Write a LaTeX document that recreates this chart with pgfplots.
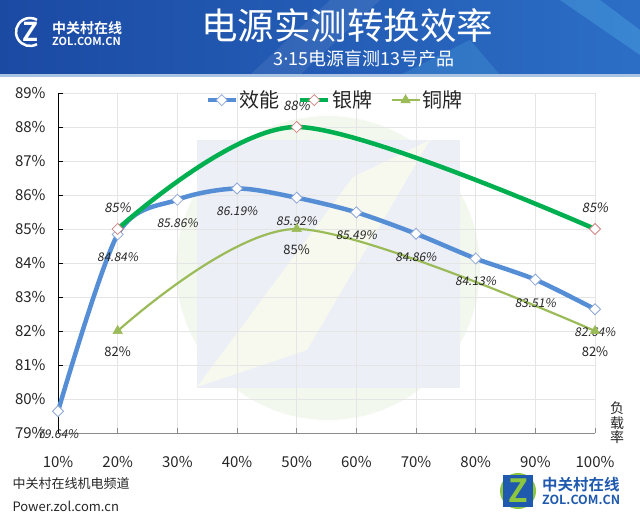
\documentclass[border=0pt]{standalone}
\usepackage{fontspec}
\setmainfont{Noto Sans CJK SC}
\newfontfamily\slfont[FakeSlant=0.18]{Noto Sans CJK SC}
\newfontfamily\boldcjk{Noto Sans CJK SC Bold}
\newfontfamily\latinfont{Noto Sans}
\usepackage{pgfplots}
\pgfplotsset{compat=1.18}
\definecolor{effblue}{HTML}{558ED5}
\definecolor{effmark}{HTML}{8FA8D6}
\definecolor{silver}{HTML}{00B050}
\definecolor{silvermark}{HTML}{C0504D}
\definecolor{bronze}{HTML}{9BBB59}
\definecolor{hdrL}{HTML}{1B4AA3}
\definecolor{hdrR}{HTML}{2C6EC6}
\definecolor{zolblue}{HTML}{1F5AAE}
\definecolor{zolgreen}{HTML}{8CC63F}
\definecolor{hdrline}{HTML}{A9C3E3}
\definecolor{wmcircle}{HTML}{F3F8EE}
\definecolor{wmrect}{HTML}{EDEFF7}
\definecolor{wmband}{HTML}{F7F9EE}
\begin{document}
\begin{tikzpicture}
\useasboundingbox (0pt,0pt) rectangle (640pt,521pt);
\fill[white] (0pt,0pt) rectangle (640pt,521pt);
\begin{scope}[x=1pt,y=-1pt,shift={(0pt,521pt)}]
  % header
  \shade[left color=hdrL, right color=hdrR] (0,0) rectangle (640,75);
  \fill[white, opacity=0.08] (250,75) -- (330,0) -- (380,0) -- (300,75) -- cycle;
  \fill[cyan!60!white, opacity=0.25] (560,0) -- (600,0) -- (640,30) -- (640,55) -- cycle;
  \fill[cyan!60!white, opacity=0.18] (400,75) -- (470,40) -- (500,75) -- cycle;
  \fill[hdrline] (0,74) rectangle (640,77);
  % header logo
  \draw[white, line width=2.5pt] (30,32) ++(60:14) arc (60:300:14);
  \node[text=white, font=\boldcjk\fontsize{26}{26}\selectfont] at (30.5,32) {Z};
  \node[text=white, anchor=west, inner sep=0pt, font=\boldcjk\fontsize{14}{15}\selectfont] at (52,28.5) {中关村在线};
  \node[text=white, anchor=west, inner sep=0pt, font=\boldcjk\fontsize{11}{12}\selectfont] at (52,41.5) {ZOL.COM.CN};
  % titles
  \node[text=white, font=\fontsize{36.5}{40}\selectfont] at (347,26) {电源实测转换效率};
  \node[text=white, font=\fontsize{18}{21}\selectfont] at (364,59) {3{\latinfont ·}15电源盲测13号产品};
  % watermark
  \fill[wmcircle] (328,268) circle (152);
  \fill[wmrect] (197,140) rectangle (460,388);
  \fill[wmband] (353,177) -- (430,140) -- (307,350) -- (197,387) -- cycle;
  % footer
  \node[anchor=west, text=black!85, font=\fontsize{13}{15}\selectfont] at (9,484) {中关村在线机电频道};
  \node[anchor=west, text=black!85, font=\fontsize{13}{15}\selectfont] at (9,506) {Power.zol.com.cn};
  % bottom-right logo
  \fill[zolgreen] (518,491) circle (18);
  \fill[zolblue] (503,475) rectangle (533,507);
  \node[text=zolgreen, font=\boldcjk\fontsize{32}{32}\selectfont] at (518,491) {Z};
  \node[anchor=west, inner sep=0pt, text=zolblue, font=\boldcjk\fontsize{15.5}{17}\selectfont] at (542,485) {中关村在线};
  \node[anchor=west, inner sep=0pt, text=zolblue, font=\boldcjk\fontsize{12.5}{14}\selectfont] at (542,500) {ZOL.COM.CN};
  % x axis name
  \node[align=center, text=black!85, font=\fontsize{14}{14.5}\selectfont] at (617,423) {负\\载\\率};
\end{scope}

\begin{axis}[
  at={(58pt,88pt)}, anchor=south west,
  scale only axis, width=537pt, height=340pt,
  xmin=10, xmax=100, ymin=79, ymax=89,
  xtick={10,20,...,100}, ytick={79,80,...,89},
  axis x line*=bottom, axis y line*=left,
  x axis line style={color=black!45, line width=0.8pt},
  y axis line style={color=black, line width=0.8pt},
  xtick style={color=black!45, line width=0.8pt},
  ytick style={color=black, line width=0.8pt},
  tick align=inside, major tick length=5pt,
  grid=major, grid style={color=black!10, line width=0.6pt},
  /pgf/number format/assume math mode=true,
  xticklabel={\pgfmathprintnumber{\tick}\%},
  yticklabel={\pgfmathprintnumber{\tick}\%},
  ticklabel style={font=\fontsize{15}{17}\selectfont, text=black!85},
  xticklabel style={anchor=center, yshift=-29pt},
  yticklabel style={anchor=east, xshift=-9pt},
  clip=false,
  legend style={draw=none, fill=none, at={(0.516,0.979)}, anchor=center,
    font=\fontsize{20}{22}\selectfont, text=black!85,
    /tikz/every even column/.append style={column sep=16pt}},
  legend columns=3,
  legend image code/.code={\draw[mark repeat=2,mark phase=2] plot coordinates {(0pt,0pt)(14pt,0pt)(28pt,0pt)};},
]
\addplot[color=effblue, line width=4.5pt, smooth,
  mark=square*, mark size=3.9pt,
  mark options={rotate=45, fill=white, draw=effmark, line width=0.8pt},
  point meta=y,
  nodes near coords={\pgfmathprintnumber[fixed,fixed zerofill,precision=2]{\pgfplotspointmeta}\%},
  every node near coord/.append style={anchor=center, yshift=-23pt, text=black!85, font=\slfont\fontsize{12}{14}\selectfont}]
coordinates {(10,79.64) (20,84.84) (30,85.86) (40,86.19) (50,85.92) (60,85.49) (70,84.86) (80,84.13) (90,83.51) (100,82.64)};
\addlegendentry{效能}
\addplot[color=silver, line width=4.5pt, smooth,
  mark=square*, mark size=3.9pt,
  mark options={rotate=45, fill=white, draw=silvermark!70, line width=0.8pt},
  point meta=y,
  nodes near coords={\pgfmathprintnumber[fixed,precision=0]{\pgfplotspointmeta}\%},
  every node near coord/.append style={anchor=center, yshift=21pt, text=black!85, font=\slfont\fontsize{13}{15}\selectfont}]
coordinates {(20,85) (50,88) (100,85)};
\addlegendentry{银牌}
\addplot[color=bronze, line width=2.2pt, smooth,
  mark=triangle*, mark size=5.5pt,
  mark options={fill=bronze, draw=bronze, line width=0.5pt},
  point meta=y,
  nodes near coords={\pgfmathprintnumber[fixed,precision=0]{\pgfplotspointmeta}\%},
  every node near coord/.append style={anchor=center, yshift=-21pt, text=black!85, font=\fontsize{13}{15}\selectfont}]
coordinates {(20,82) (50,85) (100,82)};
\addlegendentry{铜牌}
\end{axis}
\end{tikzpicture}
\end{document}
